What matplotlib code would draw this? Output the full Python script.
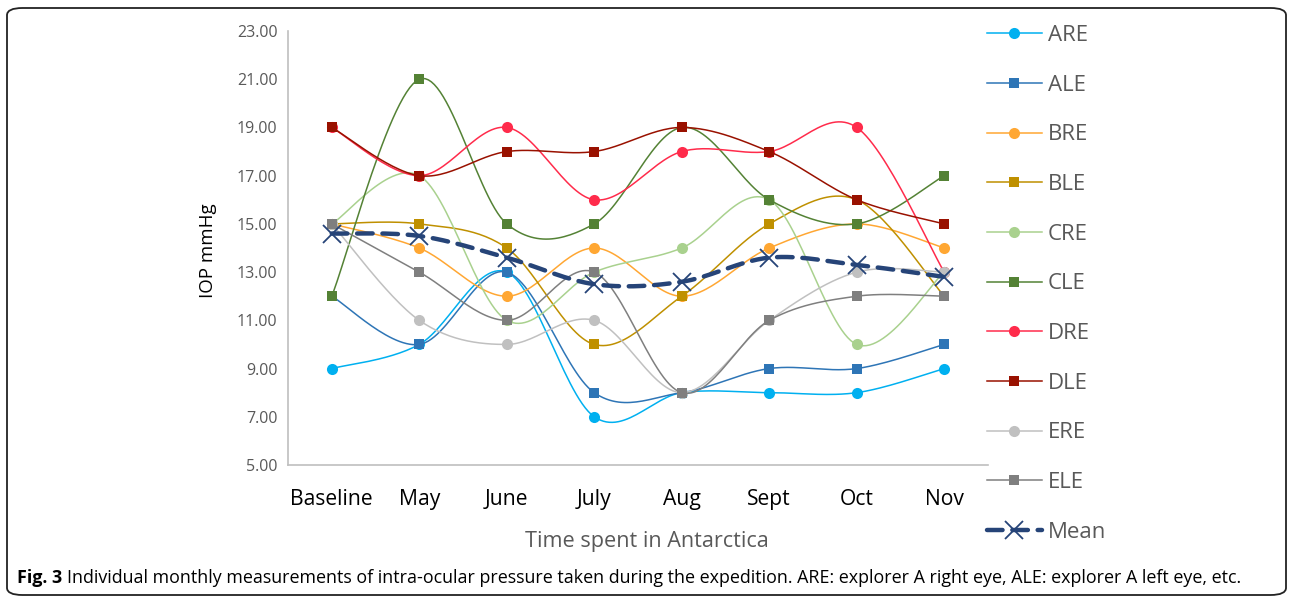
import numpy as np
import matplotlib
matplotlib.use("Agg")
import matplotlib.pyplot as plt
from matplotlib.lines import Line2D
from matplotlib.patches import FancyBboxPatch

# DATA
months = ["Baseline", "May", "June", "July", "Aug", "Sept", "Oct", "Nov"]
ARE = [9, 10, 13, 7, 8, 8, 8, 9]
ALE = [12, 10, 13, 8, 8, 9, 9, 10]
BRE = [15, 14, 12, 14, 12, 14, 15, 14]
BLE = [15, 15, 14, 10, 12, 15, 16, 12]
CRE = [15, 17, 11, 13, 14, 16, 10, 13]
CLE = [12, 21, 15, 15, 19, 16, 15, 17]
DRE = [19, 17, 19, 16, 18, 18, 19, 13]
DLE = [19, 17, 18, 18, 19, 18, 16, 15]
ERE = [15, 11, 10, 11, 8, 11, 13, 13]
ELE = [15, 13, 11, 13, 8, 11, 12, 12]
mean = [14.6, 14.5, 13.6, 12.5, 12.6, 13.6, 13.3, 12.8]
y_ticks = [5, 7, 9, 11, 13, 15, 17, 19, 21, 23]

series = [
    ("ARE", ARE, "#00B0F0", "o"),
    ("ALE", ALE, "#2E75B6", "s"),
    ("BRE", BRE, "#FFA733", "o"),
    ("BLE", BLE, "#BF9000", "s"),
    ("CRE", CRE, "#A9D18E", "o"),
    ("CLE", CLE, "#548235", "s"),
    ("DRE", DRE, "#FF2B4B", "o"),
    ("DLE", DLE, "#991100", "s"),
    ("ERE", ERE, "#C0C0C0", "o"),
    ("ELE", ELE, "#7F7F7F", "s"),
]
MEAN_COLOR = "#264478"


def smooth(xs, ys, n=30):
    # excel style smoothed line (bezier through points)
    pts = np.column_stack([xs, ys]).astype(float)
    pad = np.vstack([pts[0], pts, pts[-1]])
    t = np.linspace(0, 1, n)[:, None]
    out = []
    for i in range(len(pts) - 1):
        p0 = pad[i + 1]
        p3 = pad[i + 2]
        c1 = p0 + (pad[i + 2] - pad[i]) / 6
        c2 = p3 - (pad[i + 3] - pad[i + 1]) / 6
        seg = (1 - t) ** 3 * p0 + 3 * (1 - t) ** 2 * t * c1 + 3 * (1 - t) * t ** 2 * c2 + t ** 3 * p3
        out.append(seg if i == 0 else seg[1:])
    out = np.vstack(out)
    return out[:, 0], out[:, 1]


plt.rcParams["font.family"] = ["Open Sans", "DejaVu Sans"]

fig = plt.figure(figsize=(12.89, 5.99), dpi=100)
ax = fig.add_axes([288 / 1289, 1 - 465 / 599, 700 / 1289, 434 / 599])

x = np.arange(len(months))
handles = []
for i, (name, vals, color, mk) in enumerate(series):
    sx, sy = smooth(x, vals)
    ax.plot(sx, sy, color=color, lw=1.1, zorder=2 + i * 0.1)
    ms = 8 if mk == "o" else 7.8
    ax.plot(x, vals, linestyle="none", marker=mk, ms=ms, color=color,
            markeredgewidth=0, zorder=2.05 + i * 0.1)
    handles.append(Line2D([], [], color=color, lw=1.1, marker=mk, ms=ms,
                          markeredgewidth=0, label=name))

sx, sy = smooth(x, mean)
ax.plot(sx, sy, color=MEAN_COLOR, lw=3.2, dashes=(3.5, 2.2), dash_capstyle="round", zorder=4)
ax.plot(x, mean, linestyle="none", marker="x", ms=13, mew=1.3, color=MEAN_COLOR, zorder=4.1)
handles.append(Line2D([], [], color=MEAN_COLOR, lw=3.2, dashes=(3.5, 2.2), dash_capstyle="round",
                      marker="x", ms=13, mew=1.3, label="Mean"))

ax.set_xlim(-0.5, len(months) - 0.5)
ax.set_ylim(5, 23)
ax.set_yticks(y_ticks)
ax.set_yticklabels([f"{v:.2f}" for v in y_ticks], fontsize=11.5, color="#595959")
ax.set_xticks(x)
ax.set_xticklabels(months, fontsize=15.2, color="#000000")
ax.tick_params(axis="y", length=0, pad=7.5)
ax.tick_params(axis="x", length=0, pad=17.5)
for side in ["top", "right"]:
    ax.spines[side].set_visible(False)
for side in ["left", "bottom"]:
    ax.spines[side].set_color("#BFBFBF")
    ax.spines[side].set_linewidth(1.2)

fig.text(208 / 1289, 1 - 251 / 599, "IOP mmHg", rotation=90, fontsize=13.5,
         ha="center", va="center", color="#000000")
fig.text(647 / 1289, 1 - 541 / 599, "Time spent in Antarctica", fontsize=15.6,
         ha="center", va="center", color="#595959")

fig.legend(handles=handles, loc="upper left", bbox_to_anchor=(976 / 1289, 1 - 14 / 599),
           frameon=False, fontsize=16, handlelength=2.45, handletextpad=0.28,
           labelspacing=1.29, borderpad=0, labelcolor="#595959")

# figure border and caption
border = FancyBboxPatch((7 / 1289, 4 / 599), 1279 / 1289, 587 / 599,
                        boxstyle="round,pad=0,rounding_size=0.012",
                        transform=fig.transFigure, fill=False, edgecolor="#222222",
                        lw=1.3, zorder=0)
fig.patches.append(border)

cap_font = ["Open Sans", "DejaVu Sans"]
t1 = fig.text(17 / 1289, 1 - 578 / 599, "Fig. 3", fontsize=12.9, fontweight="bold",
              ha="left", va="center", family=cap_font)
fig.canvas.draw()
bb = t1.get_window_extent()
fig.text(bb.x1 / 1289 + 5 / 1289, 1 - 578 / 599,
         "Individual monthly measurements of intra-ocular pressure taken during the expedition. "
         "ARE: explorer A right eye, ALE: explorer A left eye, etc.",
         fontsize=12.9, ha="left", va="center", family=cap_font)

fig.savefig("out.png", dpi=100)
